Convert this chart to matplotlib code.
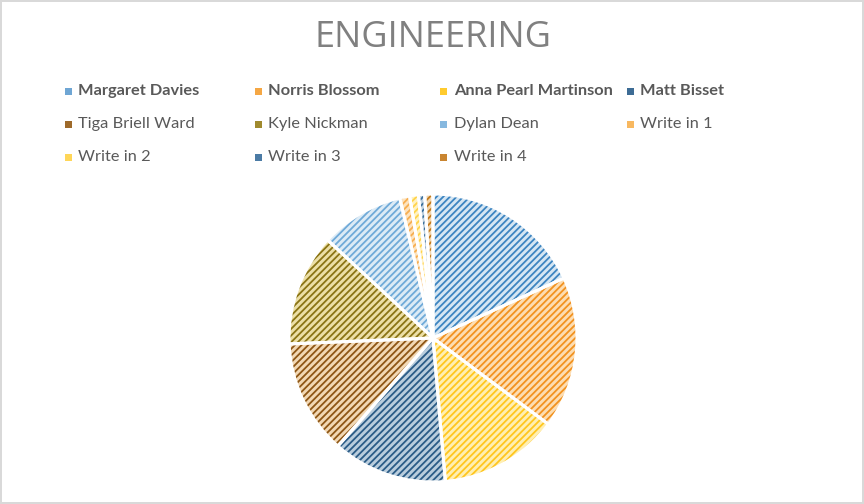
import matplotlib.pyplot as plt
from matplotlib.patches import Rectangle

# data (angles in degrees ~ share of votes)
names = ['Margaret Davies', 'Norris Blossom', 'Anna Pearl Martinson', 'Matt Bisset',
         'Tiga Briell Ward', 'Kyle Nickman', 'Dylan Dean',
         'Write in 1', 'Write in 2', 'Write in 3', 'Write in 4']
votes = [65, 61, 48, 46, 46, 45, 33.5, 4, 3.5, 2.5, 3.3]
bold_names = ['Margaret Davies', 'Norris Blossom', 'Anna Pearl Martinson', 'Matt Bisset']

stripe_colors = ['#3C84C1', '#F2921F', '#FFC61E', '#2A5B86', '#8E5615', '#8A7414',
                 '#6FAAD8', '#F7AE50', '#FFD34A', '#3B6F9C', '#C47B1B']
back_colors = ['#D5E6F3', '#FDDDB2', '#FFEFB2', '#B9CDDD', '#F2D8B4', '#ECDFA6',
               '#DCEBF6', '#FDE3BE', '#FFF2C2', '#BFD1E0', '#F1D6B0']
legend_colors = ['#6FA6D4', '#F5A744', '#FFCB2E', '#3D6C95', '#9E6A2A', '#A08A2E',
                 '#86B8DF', '#F8B860', '#FFD658', '#4B7BA5', '#C98530']

plt.rcParams['font.family'] = ['Lato', 'DejaVu Sans']
plt.rcParams['hatch.linewidth'] = 1.3

fig = plt.figure(figsize=(8.64, 5.04), dpi=100)
fig.patch.set_edgecolor('#D9D9D9')
fig.patch.set_linewidth(1.5)

W, H = 864, 504
cx, cy, r = 433, 338, 144
ax = fig.add_axes([(cx - r) / W, (H - cy - r) / H, 2 * r / W, 2 * r / H])

# hatched fill first, then white borders on top
wedges, _ = ax.pie(votes, startangle=90, counterclock=False, colors=back_colors,
                   radius=1.0, wedgeprops=dict(linewidth=0))
for w, sc in zip(wedges, stripe_colors):
    w.set_hatch('/////')
    w.set_edgecolor(sc)
ax.pie(votes, startangle=90, counterclock=False, colors=['none'] * len(votes),
       radius=1.0, wedgeprops=dict(linewidth=2.2, edgecolor='white'))
ax.set_xlim(-1.0, 1.0)
ax.set_ylim(-1.0, 1.0)
ax.set_aspect('equal')
ax.axis('off')

fig.text(cx / W, 1 - 38 / H, 'ENGINEERING', ha='center', va='center',
         fontsize=26, color='#808080', family=['Open Sans', 'DejaVu Sans'])

# legend, four columns
col_x = [68, 258, 444, 630]
row_y = [91, 124, 157]
for i, name in enumerate(names):
    mx = col_x[i % 4]
    my = row_y[i // 4]
    fig.patches.append(Rectangle(((mx - 3.5) / W, 1 - (my + 3.5) / H), 7 / W, 7 / H,
                                 transform=fig.transFigure, facecolor=legend_colors[i],
                                 edgecolor='none'))
    fig.text((mx + 10) / W, 1 - my / H, name, ha='left', va='center', fontsize=11.8,
             color='#595959', fontweight='bold' if name in bold_names else 'normal')

fig.savefig('out.png', dpi=100)
